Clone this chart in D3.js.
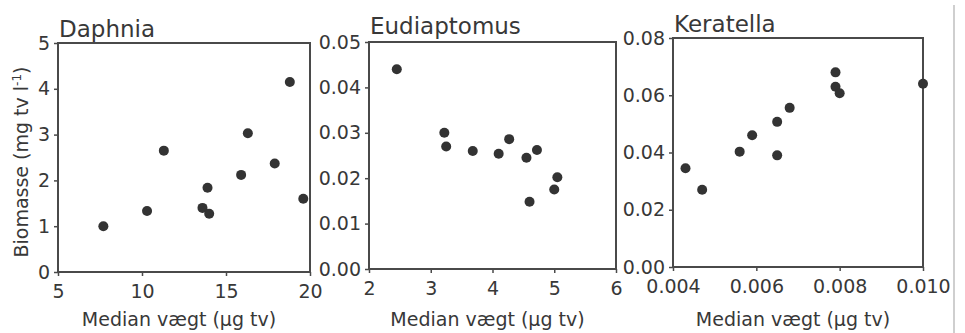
<!DOCTYPE html>
<html>
<head>
<meta charset="utf-8">
<script src="https://cdn.jsdelivr.net/npm/d3@7"></script>
<style>
	body { margin: 0; background: #fff; }
	svg { display: block; }
	text { font-family: "DejaVu Sans", sans-serif; fill: #383838; }
</style>
</head>
<body>
<div id="viz"></div>
<script>
// data
var titles = ["Daphnia", "Eudiaptomus", "Keratella"];

var daphniaX = [7.7, 10.3, 11.3, 13.6, 14.0, 13.9, 15.9, 16.3, 17.9, 18.8, 19.6];
var daphniaY = [1.0, 1.33, 2.65, 1.4, 1.27, 1.84, 2.12, 3.03, 2.37, 4.15, 1.6];

var eudiaptomusX = [2.45, 3.22, 3.25, 3.68, 4.1, 4.27, 4.55, 4.72, 4.6, 5.0, 5.05];
var eudiaptomusY = [0.044, 0.030, 0.027, 0.026, 0.0254, 0.0286, 0.0245, 0.0262, 0.0148, 0.0175, 0.0202];

var keratellaX = [0.0043, 0.0047, 0.0056, 0.0059, 0.0065, 0.0065, 0.0068, 0.0079, 0.0079, 0.0080, 0.0100];
var keratellaY = [0.0345, 0.027, 0.0403, 0.046, 0.0507, 0.039, 0.0556, 0.068, 0.063, 0.0607, 0.064];

var daphniaXTicks = [5, 10, 15, 20];
var daphniaYTicks = [0, 1, 2, 3, 4, 5];
var eudiaptomusXTicks = [2, 3, 4, 5, 6];
var eudiaptomusYTicks = [0, 0.01, 0.02, 0.03, 0.04, 0.05];
var keratellaXTicks = [0.004, 0.006, 0.008, 0.010];
var keratellaYTicks = [0, 0.02, 0.04, 0.06, 0.08];

var xLabel = "Median vægt (µg tv)";

function setUpSVG(){

	return d3.select("#viz")
		.append("svg")
		.attr("width", 965)
		.attr("height", 333);
}

// draws one scatter panel inside the box given by frame
function drawPanel(svg, p){

	var x = d3.scaleLinear().domain(p.xDomain).range([p.frame.left, p.frame.right]);
	var y = d3.scaleLinear().domain(p.yDomain).range([p.frame.bottom, p.frame.top]);

	var g = svg.append("g");

	g.append("g")
		.attr("transform", "translate(0," + p.frame.bottom + ")")
		.call(d3.axisBottom(x).tickValues(p.xTicks).tickFormat(d3.format(p.xFormat)).tickSize(4).tickSizeOuter(0).tickPadding(9))
		.call(styleAxis);

	g.append("g")
		.attr("transform", "translate(" + p.frame.left + ",0)")
		.call(d3.axisLeft(y).tickValues(p.yTicks).tickFormat(d3.format(p.yFormat)).tickSize(4).tickSizeOuter(0).tickPadding(4))
		.call(styleAxis);

	g.append("rect")
		.attr("x", p.frame.left)
		.attr("y", p.frame.top)
		.attr("width", p.frame.right - p.frame.left)
		.attr("height", p.frame.bottom - p.frame.top)
		.style("fill", "none")
		.style("stroke", "#4a4a4a")
		.style("stroke-width", 2);

	g.selectAll("circle")
		.data(d3.zip(p.xs, p.ys))
		.enter()
		.append("circle")
		.attr("cx", function(d){ return x(d[0]); })
		.attr("cy", function(d){ return y(d[1]); })
		.attr("r", 5)
		.style("fill", "#333");

	g.append("text")
		.attr("x", p.frame.left + 1)
		.attr("y", p.titleY)
		.style("font-size", "23px")
		.text(p.title);

	g.append("text")
		.attr("x", (p.frame.left + p.frame.right) / 2 - 5)
		.attr("y", 326)
		.attr("text-anchor", "middle")
		.style("font-size", "19px")
		.text(xLabel);
}

function styleAxis(sel){

	sel.select(".domain").remove();
	sel.selectAll("line").style("stroke", "#4a4a4a").style("stroke-width", 1.5);
	sel.selectAll("text")
		.style("font-size", "19px")
		.style("font-family", "DejaVu Sans, sans-serif")
		.attr("fill", "#383838");
}

var svg = setUpSVG();

// faint page edges of the scan
svg.append("line").attr("x1", 954).attr("x2", 954).attr("y1", 5).attr("y2", 333)
	.style("stroke", "#cfcfcf").style("stroke-width", 2);

drawPanel(svg, {
	title: titles[0], titleY: 37,
	frame: {left: 58, right: 310, top: 43, bottom: 272},
	xDomain: [5, 20], yDomain: [0, 5],
	xTicks: daphniaXTicks, yTicks: daphniaYTicks,
	xFormat: "d", yFormat: "d",
	xs: daphniaX, ys: daphniaY
});

drawPanel(svg, {
	title: titles[1], titleY: 34,
	frame: {left: 369, right: 616, top: 42, bottom: 269},
	xDomain: [2, 6], yDomain: [0, 0.05],
	xTicks: eudiaptomusXTicks, yTicks: eudiaptomusYTicks,
	xFormat: "d", yFormat: ".2f",
	xs: eudiaptomusX, ys: eudiaptomusY
});

drawPanel(svg, {
	title: titles[2], titleY: 32,
	frame: {left: 673, right: 923, top: 38, bottom: 267},
	xDomain: [0.004, 0.010], yDomain: [0, 0.08],
	xTicks: keratellaXTicks, yTicks: keratellaYTicks,
	xFormat: ".3f", yFormat: ".2f",
	xs: keratellaX, ys: keratellaY
});

// y axis title with superscript
var yTitle = svg.append("text")
	.attr("transform", "translate(28,162) rotate(-90)")
	.attr("text-anchor", "middle")
	.style("font-size", "19px");
yTitle.append("tspan").text("Biomasse (mg tv l");
yTitle.append("tspan").attr("dy", -7).style("font-size", "12px").text("-1");
yTitle.append("tspan").attr("dy", 7).text(")");
</script>
</body>
</html>
